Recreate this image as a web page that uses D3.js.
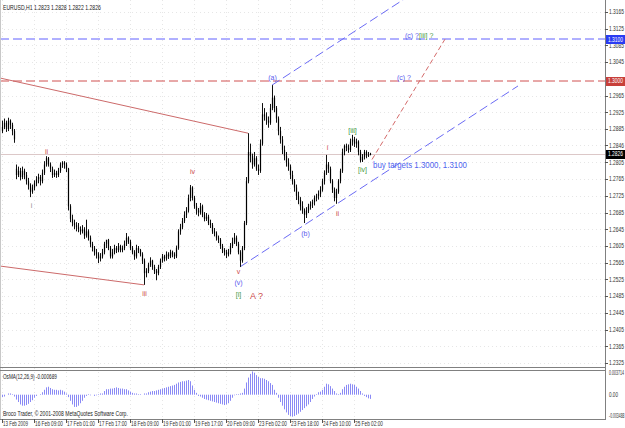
<!DOCTYPE html>
<html><head><meta charset="utf-8">
<script src="https://cdn.jsdelivr.net/npm/d3@7"></script>
<style>body{margin:0;background:#fff;overflow:hidden}svg{display:block}text{font-family:"Liberation Sans",Arial,sans-serif}</style>
</head><body><svg id="c" width="625" height="428"></svg>
<script>
// ---------- DATA ----------
const opens=[1.2880,1.2890,1.2900,1.2885,1.2905,1.2895,1.2880,
1.2790,1.2775,1.2785,1.2770,1.2785,1.2775,1.2760,1.2750,1.2735,1.2745,1.2755,1.2765,1.2770,
1.2760,1.2780,1.2800,1.2815,1.2800,1.2790,1.2775,1.2780,1.2775,1.2785,1.2800,1.2805,1.2800,
1.2790,1.2700,1.2670,1.2660,1.2655,1.2650,1.2645,1.2640,1.2645,1.2630,1.2640,1.2625,1.2610,1.2600,1.2590,1.2585,1.2575,1.2580,
1.2590,1.2610,1.2620,1.2600,1.2580,1.2590,1.2600,1.2595,1.2605,1.2595,1.2600,1.2610,1.2625,1.2615,1.2600,1.2590,1.2580,1.2600,1.2595,1.2585,
1.2570,1.2540,1.2545,1.2560,1.2570,1.2555,1.2545,1.2540,1.2555,1.2570,1.2580,1.2575,1.2585,1.2580,1.2590,1.2585,1.2580,
1.2600,1.2640,1.2650,1.2665,1.2680,1.2690,1.2720,1.2745,1.2720,1.2700,1.2690,1.2685,1.2700,1.2680,1.2670,1.2675,1.2660,
1.2655,1.2640,1.2635,1.2625,1.2620,1.2605,1.2595,1.2590,1.2585,1.2590,1.2605,1.2615,1.2625,1.2610,1.2590,1.2570,
1.2600,1.2660,1.2760,1.2830,1.2820,1.2800,1.2815,1.2790,1.2785,1.2850,1.2920,1.2915,1.2905,1.2900,1.2935,1.2960,1.2935,
1.2910,1.2880,1.2860,1.2835,1.2820,1.2805,1.2795,1.2775,1.2760,1.2745,1.2725,1.2715,1.2700,1.2690,1.2680,1.2690,1.2700,
1.2705,1.2710,1.2720,1.2725,1.2730,1.2740,1.2760,1.2780,1.2800,1.2790,1.2760,1.2740,1.2720,1.2735,1.2760,1.2785,
1.2830,1.2845,1.2840,1.2835,1.2855,1.2860,1.2850,1.2855,1.2830,1.2810,1.2818,1.2830,1.2822,1.2823];
const highs=[1.2905,1.2910,1.2905,1.2912,1.2908,1.2900,1.2885,
1.2800,1.2795,1.2792,1.2795,1.2790,1.2782,1.2768,1.2755,1.2752,1.2762,1.2772,1.2778,1.2775,
1.2788,1.2808,1.2820,1.2818,1.2805,1.2795,1.2788,1.2785,1.2792,1.2805,1.2808,1.2808,1.2805,
1.2792,1.2705,1.2680,1.2668,1.2662,1.2660,1.2652,1.2655,1.2650,1.2668,1.2645,1.2630,1.2615,1.2605,1.2598,1.2590,1.2588,1.2598,
1.2615,1.2618,1.2622,1.2605,1.2598,1.2608,1.2605,1.2612,1.2608,1.2606,1.2618,1.2636,1.2628,1.2620,1.2605,1.2595,1.2608,1.2605,1.2598,1.2590,
1.2575,1.2552,1.2565,1.2578,1.2572,1.2560,1.2550,1.2560,1.2575,1.2586,1.2584,1.2592,1.2590,1.2596,1.2594,1.2590,1.2606,
1.2645,1.2658,1.2672,1.2688,1.2698,1.2728,1.2751,1.2748,1.2725,1.2708,1.2696,1.2708,1.2704,1.2686,1.2684,1.2680,1.2668,
1.2660,1.2648,1.2640,1.2630,1.2624,1.2610,1.2600,1.2596,1.2598,1.2612,1.2625,1.2636,1.2630,1.2615,1.2595,1.2605,
1.2665,1.2770,1.2875,1.2850,1.2826,1.2830,1.2820,1.2800,1.2860,1.2947,1.2935,1.2925,1.2915,1.2945,1.2990,1.2965,1.2940,
1.2915,1.2890,1.2868,1.2845,1.2830,1.2815,1.2800,1.2785,1.2765,1.2752,1.2735,1.2722,1.2712,1.2695,1.2698,1.2706,1.2712,
1.2716,1.2726,1.2730,1.2738,1.2748,1.2766,1.2786,1.2823,1.2806,1.2795,1.2765,1.2745,1.2742,1.2765,1.2790,1.2838,
1.2848,1.2850,1.2848,1.2862,1.2871,1.2866,1.2862,1.2858,1.2835,1.2825,1.2835,1.2834,1.2830,1.2828];
const lows=[1.2875,1.2885,1.2878,1.2880,1.2885,1.2870,1.2852,
1.2765,1.2770,1.2762,1.2765,1.2765,1.2752,1.2740,1.2722,1.2730,1.2738,1.2748,1.2755,1.2750,
1.2755,1.2775,1.2795,1.2795,1.2782,1.2768,1.2770,1.2768,1.2770,1.2780,1.2792,1.2790,1.2782,
1.2690,1.2662,1.2652,1.2645,1.2640,1.2638,1.2632,1.2635,1.2622,1.2625,1.2618,1.2602,1.2592,1.2582,1.2575,1.2564,1.2568,1.2575,
1.2585,1.2600,1.2595,1.2575,1.2575,1.2585,1.2588,1.2590,1.2590,1.2590,1.2595,1.2605,1.2610,1.2595,1.2585,1.2572,1.2575,1.2588,1.2580,1.2562,
1.2512,1.2530,1.2540,1.2555,1.2548,1.2538,1.2523,1.2535,1.2550,1.2565,1.2568,1.2570,1.2574,1.2576,1.2578,1.2574,1.2576,
1.2596,1.2632,1.2645,1.2660,1.2672,1.2685,1.2712,1.2714,1.2694,1.2680,1.2676,1.2680,1.2674,1.2664,1.2665,1.2655,1.2648,
1.2634,1.2628,1.2618,1.2612,1.2598,1.2588,1.2582,1.2576,1.2580,1.2585,1.2600,1.2610,1.2605,1.2585,1.2555,1.2565,
1.2595,1.2655,1.2755,1.2805,1.2790,1.2795,1.2785,1.2775,1.2780,1.2845,1.2905,1.2895,1.2888,1.2895,1.2930,1.2925,1.2900,
1.2870,1.2850,1.2825,1.2810,1.2795,1.2785,1.2765,1.2752,1.2735,1.2715,1.2705,1.2690,1.2682,1.2660,1.2672,1.2684,1.2692,
1.2696,1.2702,1.2712,1.2716,1.2722,1.2735,1.2752,1.2775,1.2780,1.2755,1.2732,1.2712,1.2706,1.2730,1.2755,1.2780,
1.2822,1.2832,1.2828,1.2830,1.2845,1.2842,1.2840,1.2822,1.2805,1.2806,1.2812,1.2815,1.2818,1.2822];
const closes=[1.2890,1.2900,1.2885,1.2905,1.2895,1.2880,1.2860,
1.2775,1.2785,1.2770,1.2785,1.2775,1.2760,1.2750,1.2735,1.2745,1.2755,1.2765,1.2770,1.2760,
1.2780,1.2800,1.2815,1.2800,1.2790,1.2775,1.2780,1.2775,1.2785,1.2800,1.2805,1.2800,1.2790,
1.2700,1.2670,1.2660,1.2655,1.2650,1.2645,1.2640,1.2645,1.2630,1.2640,1.2625,1.2610,1.2600,1.2590,1.2585,1.2575,1.2580,1.2590,
1.2610,1.2620,1.2600,1.2580,1.2590,1.2600,1.2595,1.2605,1.2595,1.2600,1.2610,1.2625,1.2615,1.2600,1.2590,1.2580,1.2600,1.2595,1.2585,1.2570,
1.2540,1.2545,1.2560,1.2570,1.2555,1.2545,1.2540,1.2555,1.2570,1.2580,1.2575,1.2585,1.2580,1.2590,1.2585,1.2580,1.2600,
1.2640,1.2650,1.2665,1.2680,1.2690,1.2720,1.2745,1.2720,1.2700,1.2690,1.2685,1.2700,1.2680,1.2670,1.2675,1.2660,1.2655,
1.2640,1.2635,1.2625,1.2620,1.2605,1.2595,1.2590,1.2585,1.2590,1.2605,1.2615,1.2625,1.2610,1.2590,1.2570,1.2600,
1.2660,1.2760,1.2830,1.2820,1.2800,1.2815,1.2790,1.2785,1.2850,1.2920,1.2915,1.2905,1.2900,1.2935,1.2960,1.2935,1.2910,
1.2880,1.2860,1.2835,1.2820,1.2805,1.2795,1.2775,1.2760,1.2745,1.2725,1.2715,1.2700,1.2690,1.2680,1.2690,1.2700,1.2705,
1.2710,1.2720,1.2725,1.2730,1.2740,1.2760,1.2780,1.2800,1.2790,1.2760,1.2740,1.2720,1.2735,1.2760,1.2785,1.2830,
1.2845,1.2840,1.2835,1.2855,1.2860,1.2850,1.2855,1.2830,1.2810,1.2818,1.2830,1.2822,1.2823,1.2826];
const osma=[-0.0004,-0.0003,0.0000,0.0002,0.0002,0.0001,-0.0003,-0.0008,-0.0012,-0.0016,-0.0018,-0.0018,-0.0017,-0.0015,-0.0012,-0.0009,-0.0005,-0.0002,0.0000,0.0001,
0.0004,0.0008,0.0012,0.0013,0.0011,0.0009,0.0008,0.0008,0.0007,0.0008,0.0007,0.0005,0.0002,
-0.0004,-0.0010,-0.0016,-0.0020,-0.0020,-0.0018,-0.0014,-0.0010,-0.0005,-0.0002,0.0001,-0.0001,0.0000,-0.0002,-0.0001,0.0001,0.0002,0.0002,
0.0006,0.0009,0.0009,0.0010,0.0010,0.0011,0.0012,0.0011,0.0010,0.0010,0.0009,0.0009,0.0007,0.0005,0.0003,0.0002,0.0002,0.0001,0.0001,0.0000,0.0002,0.0002,
0.0004,0.0005,0.0006,0.0006,0.0007,0.0008,0.0009,0.0010,0.0011,0.0012,0.0013,0.0014,0.0015,0.0016,0.0018,0.0020,0.0021,0.0022,0.0022,0.0023,0.0024,0.0022,0.0015,0.0008,0.0003,-0.0002,
-0.0003,-0.0005,-0.0007,-0.0008,-0.0009,-0.0010,-0.0011,-0.0012,-0.0013,-0.0014,-0.0015,-0.0016,-0.0017,-0.0016,-0.0014,-0.0010,-0.0005,-0.0001,0.0001,0.0001,0.0002,
0.0003,0.0010,0.0020,0.0028,0.0034,0.0038,0.0036,0.0032,0.0029,0.0027,0.0027,0.0026,0.0024,0.0022,0.0019,0.0016,0.0008,0.0003,
-0.0005,-0.0012,-0.0018,-0.0024,-0.0029,-0.0033,-0.0035,-0.0036,-0.0035,-0.0033,-0.0031,-0.0028,-0.0025,-0.0022,-0.0019,-0.0016,-0.0012,-0.0007,-0.0003,0.0001,
0.0004,0.0005,0.0008,0.0013,0.0018,0.0017,0.0014,0.0010,0.0006,0.0002,0.0001,0.0003,0.0009,0.0013,0.0016,0.0017,0.0018,0.0017,0.0016,0.0013,0.0010,0.0006,0.0002,-0.0002,-0.0004,-0.0006,-0.000689];
const priceTicks=["1.3165","1.3125","1.3085","1.3045","1.2965","1.2925","1.2885","1.2846","1.2805","1.2765","1.2725","1.2685","1.2645","1.2605","1.2565","1.2525","1.2485","1.2445","1.2405","1.2365","1.2325"];
const markerLabels=["1.3100","1.3000","1.2826"];
const osmaTicks=["0.003714","0.00","-0.003488"];
const timeLabels=["13 Feb 2009","16 Feb 09:00","17 Feb 01:00","17 Feb 17:00","18 Feb 09:00","19 Feb 01:00","19 Feb 17:00","20 Feb 09:00","23 Feb 02:00","23 Feb 18:00","24 Feb 10:00","25 Feb 02:00"];
const timeIndex=[0,16,32,48,64,80,96,112,128,144,160,176];
// trend lines in (bar index, price)
const trendLines=[
 {a:[-1,1.3007],b:[123,1.2875],c:"#cc6a6a",d:null},
 {a:[-1,1.2557],b:[71,1.2512],c:"#cc6a6a",d:null},
 {a:[119,1.2555],b:[258,1.2988],c:"#6b6bf5",d:"9,4"},
 {a:[135,1.2990],b:[201,1.31956],c:"#6b6bf5",d:"9,4"},
 {a:[185,1.2812],b:[221.5,1.3100],c:"#d46a6a",d:"5,3"}
];
const levelPrices=[1.3100,1.3000];
const levelColors=["#6060ff","#d05050"];
const waveLabels=[
 {t:"(a)",i:135,p:1.30022,c:"#5b5bee"},{t:"(b)",i:151.5,p:1.26289,c:"#5b5bee"},
 {t:"(v)",i:118,p:1.25117,c:"#5b5bee"},{t:"[i]",i:118,p:1.24829,c:"#3f9a3f"},
 {t:"v",i:118,p:1.25379,c:"#cc4a4a"},{t:"i",i:162.5,p:1.28347,c:"#cc4a4a"},
 {t:"ii",i:167.5,p:1.26767,c:"#cc4a4a"},{t:"[iii]",i:175,p:1.28755,c:"#3f9a3f"},
 {t:"[iv]",i:180,p:1.27820,c:"#3f9a3f"},{t:"iv",i:95,p:1.27772,c:"#cc4a4a"},
 {t:"iii",i:71,p:1.24853,c:"#cc4a4a"},{t:"ii",i:22,p:1.28251,c:"#cc4a4a"},
 {t:"i",i:14.5,p:1.26959,c:"#8a8a8a"}
];
// ---------- SCALES ----------
const svg=d3.select("#c");
const x=d3.scaleLinear().domain([0,301.5]).range([2,605]);
const y=d3.scaleLinear().domain([1.2325,1.3165]).range([363,12]);
const yo=d3.scaleLinear().domain([-0.003488,0.003714]).range([416,372]);
const px=i=>Math.round(x(i))+0.5;
const ry=p=>Math.round(y(p))+0.5;

function small(g,str,tx,ty,w,fs,fill){
  const t=g.append("text").attr("font-size",fs).attr("fill",fill).text(str);
  const nat=t.node().getComputedTextLength();
  t.attr("transform",`translate(${tx},${ty}) scale(${w/nat},1)`);
  return t;
}

const defs=svg.append("defs");
defs.append("clipPath").attr("id","mc").append("rect").attr("x",0).attr("y",0).attr("width",605).attr("height",367);
defs.append("clipPath").attr("id","ic").append("rect").attr("x",0).attr("y",371).attr("width",605).attr("height",48);

// grid
const grid=svg.append("g").attr("stroke","#e6e6e6").attr("stroke-dasharray","1,3");
priceTicks.forEach(d=>grid.append("line").attr("x1",0).attr("x2",605).attr("y1",ry(+d)).attr("y2",ry(+d)));
timeIndex.forEach(d=>grid.append("line").attr("y1",0).attr("y2",419).attr("x1",px(d)).attr("x2",px(d)));

const main=svg.append("g").attr("clip-path","url(#mc)");
main.append("line").attr("x1",0).attr("x2",605).attr("y1",ry(1.2826)).attr("y2",ry(1.2826)).attr("stroke","#dcc8c8");
levelPrices.forEach((p,k)=>main.append("line").attr("x1",0).attr("x2",605)
 .attr("y1",Math.round(y(p))).attr("y2",Math.round(y(p)))
 .attr("stroke",levelColors[k]).attr("stroke-width",1).attr("stroke-dasharray","9,4"));
trendLines.forEach(d=>main.append("line").attr("x1",x(d.a[0])).attr("y1",y(d.a[1])).attr("x2",x(d.b[0])).attr("y2",y(d.b[1]))
 .attr("stroke",d.c).attr("stroke-dasharray",d.d));
const idx=d3.range(closes.length);
const bars=main.append("g");
bars.selectAll("line").data(idx).join("line").attr("x1",px).attr("x2",px)
 .attr("y1",i=>y(highs[i])).attr("y2",i=>y(lows[i])).attr("stroke","#111").attr("stroke-width",1);
bars.selectAll("rect").data(idx).join("rect").attr("x",i=>px(i)-0.6).attr("width",1.2)
 .attr("y",i=>y(Math.max(opens[i],closes[i]))).attr("height",i=>Math.max(1,Math.abs(y(opens[i])-y(closes[i]))))
 .attr("fill","#000");

svg.append("g").selectAll("text").data(waveLabels).join("text")
 .attr("x",d=>x(d.i)+0.5).attr("y",d=>y(d.p)).attr("text-anchor","middle").attr("font-size",7)
 .attr("fill",d=>d.c).text(d=>d.t);
const ann=svg.append("g").attr("font-size",7);
ann.append("text").attr("x",x(197.5)).attr("y",y(1.30022)).attr("fill","#5b5bee").text("(c) ?");
ann.append("text").attr("x",x(201.5)).attr("y",y(1.31028)).attr("fill","#5b5bee").text("(c) ?");
ann.append("text").attr("x",x(208.5)).attr("y",y(1.31028)).attr("fill","#3f9a3f").text("[iii] ?");
svg.append("text").attr("x",x(124)).attr("y",y(1.24781)).attr("font-size",9).attr("fill","#cc4a4a").text("A ?");
small(svg,"buy  targets 1.3000, 1.3100",x(185.5),y(1.27916),94,8.2,"#4f63ee");
small(svg,"EURUSD,H1  1.2823 1.2828 1.2822 1.2826",3,10,98,6.5,"#222");

const ind=svg.append("g").attr("clip-path","url(#ic)");
ind.selectAll("line").data(idx).join("line").attr("x1",px).attr("x2",px)
 .attr("y1",yo(0)).attr("y2",i=>yo(osma[i])).attr("stroke","#8a8af5").attr("stroke-width",1);
small(svg,"OsMA(12,26,9) -0.000689",3,379,54,6.5,"#222");
small(svg,"Broco Trader, © 2001-2008 MetaQuotes Software Corp.",3,416,125,6.5,"#222");

const fr=svg.append("g").attr("stroke","#808080").attr("fill","none");
fr.append("line").attr("x1",605.5).attr("x2",605.5).attr("y1",0).attr("y2",420);
fr.append("line").attr("x1",0.5).attr("x2",0.5).attr("y1",0).attr("y2",420).attr("stroke","#c8c8c8");
fr.append("line").attr("x1",0).attr("x2",606).attr("y1",367.5).attr("y2",367.5);
fr.append("line").attr("x1",0).attr("x2",606).attr("y1",370.5).attr("y2",370.5);
fr.append("line").attr("x1",0).attr("x2",606).attr("y1",419.5).attr("y2",419.5);

const ax=svg.append("g");
priceTicks.forEach(d=>{
  ax.append("line").attr("x1",605).attr("x2",608).attr("y1",ry(+d)).attr("y2",ry(+d)).attr("stroke","#555");
  small(ax,d,609,y(+d)+2.3,15,6.5,"#333");
});
const markerColors=["#2a3cf2","#c8403a","#000000"];
markerLabels.forEach((d,k)=>{
  ax.append("rect").attr("x",606).attr("width",19).attr("y",Math.round(y(+d))-4).attr("height",9).attr("fill",markerColors[k]);
  small(ax,d,608,y(+d)+2.5,15,6.5,"#fff");
});
const oy=[yo(+osmaTicks[0])+2.5,yo(0)+2.3,yo(+osmaTicks[2])+2];
const ow=[15,9,15.5];
osmaTicks.forEach((d,k)=>small(ax,d,609,oy[k],ow[k],6.5,"#333"));

const ta=svg.append("g");
timeIndex.forEach((ti,k)=>{
  ta.append("line").attr("x1",px(ti)).attr("x2",px(ti)).attr("y1",419).attr("y2",423).attr("stroke","#555");
  small(ta,timeLabels[k],x(ti)+1,426,timeLabels[k].length>11?28:25,6.5,"#333");
});
</script></body></html>
